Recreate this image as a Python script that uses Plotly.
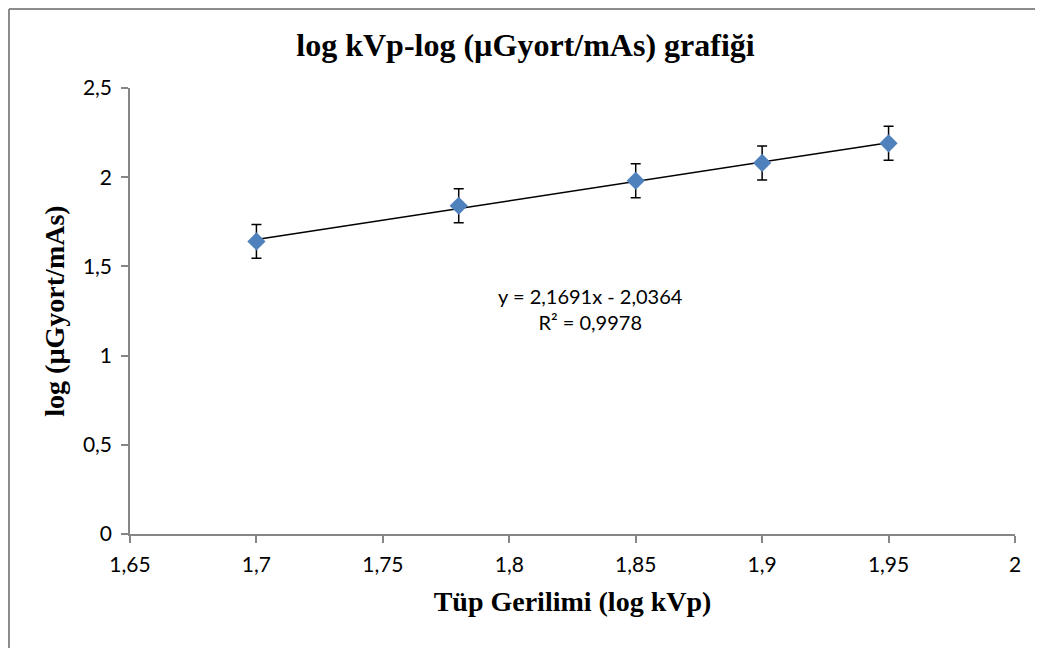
import plotly.graph_objects as go
import numpy as np

# Data
log_kvp = [1.70, 1.78, 1.85, 1.90, 1.95]
log_dose = [1.64, 1.84, 1.98, 2.08, 2.19]
err = [0.095, 0.095, 0.095, 0.095, 0.095]
slope = 2.1691
intercept = -2.0364
r2 = 0.9978

x_tickvals = [1.65, 1.7, 1.75, 1.8, 1.85, 1.9, 1.95, 2.0]
y_tickvals = [0, 0.5, 1, 1.5, 2, 2.5]

# page body has 8px margin; compensate
OFF = 8
W, H = 1043 - OFF, 648 - OFF
L, R, T, B = 130 - OFF, 28, 88 - OFF, 114

fig = go.Figure()

xt = np.array([min(log_kvp), max(log_kvp)])
fig.add_trace(go.Scatter(
    x=xt, y=slope * xt + intercept, mode="lines",
    line=dict(color="black", width=1.5), showlegend=False, hoverinfo="skip"))

fig.add_trace(go.Scatter(
    x=log_kvp, y=log_dose, mode="markers",
    marker=dict(symbol="diamond", size=14, color="#4F81BD"),
    error_y=dict(type="data", array=err, visible=True, color="black",
                 thickness=1.5, width=5),
    showlegend=False))

sans = "Lato, 'Open Sans', sans-serif"
serif = "'Liberation Serif', 'Times New Roman', serif"

fig.add_annotation(
    x=1.832, y=1.26, xref="x", yref="y",
    xanchor="center", yanchor="middle", showarrow=False,
    align="center",
    text=f"y = {slope:.4f}x - {abs(intercept):.4f}<br>R² = {r2:.4f}".replace(".", ","),
    font=dict(family=sans, size=20, color="black"),
)

axis_font = dict(family=sans, size=21, color="black")
title_font = dict(family=serif, size=28, color="black")

fig.update_layout(
    width=W, height=H,
    margin=dict(l=L, r=R, t=T, b=B),
    paper_bgcolor="white", plot_bgcolor="white",
    separators=",.",
    title=dict(
        text="<b>log kVp-log (µGyort/mAs) grafiği</b>",
        x=0.5, xref="container", xanchor="center",
        y=1 - (45 - OFF) / H, yanchor="middle",
        font=dict(family=serif, size=32, color="black"),
    ),
    xaxis=dict(
        range=[1.65, 2.0], tickvals=x_tickvals,
        showgrid=False, zeroline=False,
        showline=True, linecolor="#868686", linewidth=1.5,
        ticks="outside", ticklen=7, tickcolor="#868686", tickwidth=1.5,
        tickfont=axis_font, ticklabelstandoff=4,
        title=dict(text="<b>Tüp Gerilimi (log kVp)</b>", font=title_font, standoff=16),
    ),
    yaxis=dict(
        range=[0, 2.5], tickvals=y_tickvals,
        showgrid=False, zeroline=False,
        showline=True, linecolor="#868686", linewidth=1.5,
        ticks="outside", ticklen=7, tickcolor="#868686", tickwidth=1.5,
        tickfont=axis_font, ticklabelstandoff=5,
        title=dict(text="<b>log (µGyort/mAs)</b>", font=title_font, standoff=10),
    ),
)

# outer chart frame (left and top edges visible)
pw, ph = W - L - R, H - T - B
fx0 = (1 - L) / pw
fy1 = (H - B - 1) / ph
fig.add_shape(type="line", xref="paper", yref="paper",
              x0=fx0, x1=fx0, y0=-1, y1=fy1, line=dict(color="#8c8c8c", width=2))
fig.add_shape(type="line", xref="paper", yref="paper",
              x0=fx0, x1=2, y0=fy1, y1=fy1, line=dict(color="#8c8c8c", width=2))

fig.write_html("out.html")
